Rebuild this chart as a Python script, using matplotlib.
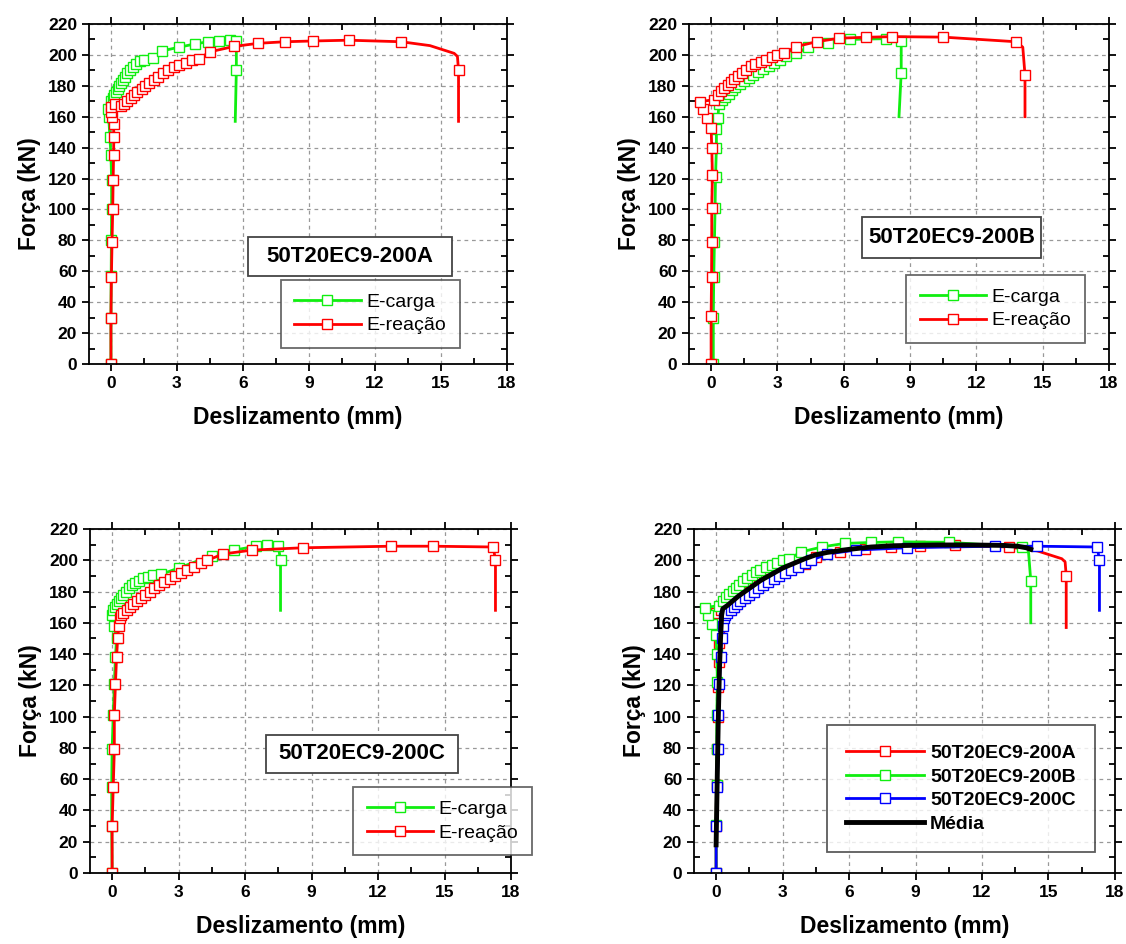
import matplotlib
matplotlib.use("Agg")
import matplotlib.pyplot as plt
from matplotlib.patches import Rectangle
from matplotlib.ticker import MultipleLocator

plt.rcParams['font.family'] = ['Liberation Sans', 'DejaVu Sans']

# --- dados (deslizamento mm, força kN) ---
# 50T20EC9-200A
a_carga_x = [0.0, 0.0, 0.01, 0.02, 0.03, 0.03, 0.0, -0.05, -0.1, -0.12, 0.0, 0.1, 0.15, 0.22, 0.3, 0.38,
             0.46, 0.55, 0.65, 0.75, 0.86, 0.98, 1.12, 1.3, 1.5, 1.9, 2.3, 3.1, 3.8, 4.4, 4.9, 5.4, 5.7, 5.7, 5.65]
a_carga_y = [0, 30, 57, 80, 100, 119, 135, 147, 160, 165, 170, 172, 174, 176, 178, 180,
             182, 184, 186, 188, 190, 192, 194, 196, 197, 198, 202.5, 205, 207, 208.5, 209, 209.5, 209, 190, 157]
a_reac_x = [0.0, 0.0, 0.02, 0.05, 0.08, 0.1, 0.12, 0.13, 0.12, 0.05, 0.0, 0.0, 0.2, 0.45, 0.6, 0.75, 0.9,
            1.05, 1.2, 1.4, 1.55, 1.75, 1.95, 2.15, 2.35, 2.6, 2.85, 3.1, 3.4, 3.7, 4.0, 4.5, 5.6, 6.7, 7.9,
            9.2, 10.8, 13.2, 14.5, 15.6, 15.75, 15.8, 15.8]
a_reac_y = [0, 30, 56.5, 79, 100, 119, 135, 147, 155, 160, 163, 166, 168, 167, 168, 170, 172,
            174, 176, 178, 180, 182, 184, 186, 188, 190, 192, 193.5, 195, 196.5, 197.5, 202, 205.5, 207.5, 208.5,
            209, 209.5, 208.5, 206, 201, 199, 190, 157]
a_reac_semmarca = [38, 39, 40]

# 50T20EC9-200B
b_carga_x = [0.1, 0.1, 0.12, 0.15, 0.18, 0.2, 0.24, 0.24, 0.3, 0.36, 0.5, 0.65, 0.8, 0.95, 1.1, 1.3, 1.5,
             1.7, 1.9, 2.1, 2.35, 2.6, 2.85, 3.1, 3.4, 3.85, 4.4, 5.3, 6.3, 7.9, 8.6, 8.6, 8.5]
b_carga_y = [0, 30, 56, 79, 101, 121, 140, 152, 159, 168, 171, 173, 175, 177, 179, 181, 183,
             185, 187, 189, 191, 193, 195, 197, 199, 201, 205, 208, 210, 210.5, 209, 188.5, 160]
b_reac_x = [0.0, 0.0, 0.02, 0.03, 0.03, 0.06, 0.03, 0.0, -0.17, -0.37, -0.5, 0.14, 0.3, 0.45, 0.6, 0.75,
            0.9, 1.05, 1.2, 1.4, 1.6, 1.8, 2.0, 2.25, 2.5, 2.75, 3.0, 3.3, 3.85, 4.8, 5.8, 7.0, 8.2, 10.5,
            13.8, 14.1, 14.2, 14.2]
b_reac_y = [0, 31, 56, 79, 101, 122, 140, 152.5, 159, 165, 169.8, 171, 174, 176.5, 178.5, 180.5,
            182.5, 184.5, 186.5, 188.5, 190.5, 192.5, 194, 195.5, 197, 198.5, 200, 201, 205.4, 208.6, 210.8,
            211.4, 211.8, 211.5, 208.5, 205, 187, 160]
b_reac_semmarca = [35]

# 50T20EC9-200C
c_carga_x = [0.0, -0.02, -0.02, 0.0, 0.05, 0.1, 0.15, 0.2, 0.1, 0.0, 0.05, 0.12, 0.2, 0.3, 0.4, 0.5,
             0.62, 0.75, 0.9, 1.05, 1.2, 1.4, 1.6, 1.85, 2.2, 3.0, 4.5, 5.5, 6.5, 7.0, 7.5, 7.6, 7.6]
c_carga_y = [0, 30, 55, 79, 101, 121, 138, 150, 158, 165, 168, 170, 172, 174, 176, 178,
             180, 182, 184, 185.5, 187, 188.5, 189.5, 190.5, 191, 195, 203, 206.5, 209, 209.5, 209, 200, 168]
c_reac_x = [0.0, 0.0, 0.05, 0.1, 0.1, 0.15, 0.2, 0.25, 0.3, 0.35, 0.4, 0.5, 0.65, 0.8, 0.95, 1.1,
            1.3, 1.5, 1.7, 1.9, 2.1, 2.35, 2.6, 2.85, 3.1, 3.4, 3.7, 4.0, 4.3, 5.0, 6.3, 8.6, 12.6, 14.5,
            17.2, 17.3, 17.3]
c_reac_y = [0, 30, 55, 79, 101, 121, 138, 150, 158, 163, 165, 166, 168, 170, 172, 174,
            176, 178, 180, 182, 184, 186, 188, 190, 192, 194, 196, 198, 200, 204, 206.5, 208, 209, 209,
            208.5, 200, 168]

# média
media_x = [0.0, 0.05, 0.1, 0.15, 0.2, 0.25, 0.3, 0.5, 1.0, 1.5, 2.0, 2.5, 3.0, 3.5, 4.0, 4.5, 5.0,
           6.0, 7.0, 8.0, 9.0, 10.0, 11.0, 12.0, 13.0, 13.6, 14.0, 14.2]
media_y = [18, 60, 100, 130, 150, 165, 169, 171, 177, 182, 187, 191, 195, 198, 201, 203.5, 205,
           207, 208.5, 209.3, 209.6, 209.8, 209.8, 209.7, 209.5, 209, 208, 207]

VERDE = '#10ee10'
VERMELHO = '#ff0000'
AZUL = '#0000ff'


def curva(ax, x, y, cor, label, semmarca=()):
    # o último ponto (fim da queda) não tem marcador
    idx = [i for i in range(len(x) - 1) if i not in semmarca]
    ax.plot(x, y, color=cor, lw=2, marker='s', ms=7.3, mfc='white', mec=cor, mew=1,
            markevery=idx, label=label)


def formatar(ax):
    ax.set_xlim(-1, 18)
    ax.set_ylim(0, 220)
    ax.xaxis.set_major_locator(MultipleLocator(3))
    ax.xaxis.set_minor_locator(MultipleLocator(1.5))
    ax.yaxis.set_major_locator(MultipleLocator(20))
    ax.yaxis.set_minor_locator(MultipleLocator(10))
    ax.grid(True, which='major', color='#999999', ls=(0, (3, 3)), lw=0.9)
    ax.set_axisbelow(True)
    ax.tick_params(which='major', direction='out', length=5, width=1.3, labelsize=12.5)
    ax.tick_params(which='minor', direction='in', length=4, width=1.3)
    ax.tick_params(which='both', top=True, right=True)
    for lab in ax.get_xticklabels() + ax.get_yticklabels():
        lab.set_fontweight('bold')
    for s in ax.spines.values():
        s.set_linewidth(1.3)
    ax.set_xlabel('Deslizamento (mm)', fontsize=16.5, fontweight='bold', labelpad=11)
    ax.set_ylabel('Força (kN)', fontsize=16.5, fontweight='bold', labelpad=5)


def caixa(ax, texto, x0, x1, y0, y1):
    ax.add_patch(Rectangle((x0, y0), x1 - x0, y1 - y0, transform=ax.transAxes, fc='white',
                           ec='#444444', lw=1.3, zorder=5))
    ax.text((x0 + x1) / 2, (y0 + y1) / 2, texto, transform=ax.transAxes, ha='center', va='center',
            fontsize=16, fontweight='bold', zorder=6)


fig = plt.figure(figsize=(11.26, 9.44), dpi=100)
ax_a = fig.add_axes([0.0790, 0.6144, 0.3712, 0.3602])
ax_b = fig.add_axes([0.6119, 0.6144, 0.3730, 0.3602])
ax_c = fig.add_axes([0.0799, 0.0752, 0.3739, 0.3644])
ax_m = fig.add_axes([0.6163, 0.0752, 0.3739, 0.3644])

paineis = [
    (ax_a, a_carga_x, a_carga_y, a_reac_x, a_reac_y, a_reac_semmarca, '50T20EC9-200A',
     (0.380, 0.868, 0.259, 0.374), (0.459, 0.047)),
    (ax_b, b_carga_x, b_carga_y, b_reac_x, b_reac_y, b_reac_semmarca, '50T20EC9-200B',
     (0.412, 0.838, 0.312, 0.432), (0.517, 0.062)),
    (ax_c, c_carga_x, c_carga_y, c_reac_x, c_reac_y, (), '50T20EC9-200C',
     (0.418, 0.874, 0.291, 0.401), (0.625, 0.052)),
]
for ax, cx, cy, rx, ry, sm, nome, box, pos_leg in paineis:
    curva(ax, cx, cy, VERDE, 'E-carga')
    curva(ax, rx, ry, VERMELHO, 'E-reação', sm)
    formatar(ax)
    caixa(ax, nome, *box)
    leg = ax.legend(loc='lower left', bbox_to_anchor=pos_leg, fontsize=14, handlelength=3.4,
                    frameon=True, fancybox=False, borderpad=0.7, labelspacing=0.3, handletextpad=0.3,
                    borderaxespad=0)
    leg.get_frame().set_edgecolor('#444444')
    leg.get_frame().set_linewidth(1.3)
    leg.set_zorder(7)

curva(ax_m, a_reac_x, a_reac_y, VERMELHO, '50T20EC9-200A', a_reac_semmarca)
curva(ax_m, b_reac_x, b_reac_y, VERDE, '50T20EC9-200B', b_reac_semmarca)
curva(ax_m, c_reac_x, c_reac_y, AZUL, '50T20EC9-200C')
ax_m.plot(media_x, media_y, color='black', lw=3.5, label='Média')
formatar(ax_m)
leg = ax_m.legend(loc='lower left', bbox_to_anchor=(0.316, 0.061), handlelength=4,
                  frameon=True, fancybox=False, borderpad=1.0, labelspacing=0.3, handletextpad=0.3,
                  borderaxespad=0, prop={'weight': 'bold', 'size': 14})
leg.get_frame().set_edgecolor('#333333')
leg.get_frame().set_linewidth(1.3)

fig.savefig('out.png', dpi=100)
